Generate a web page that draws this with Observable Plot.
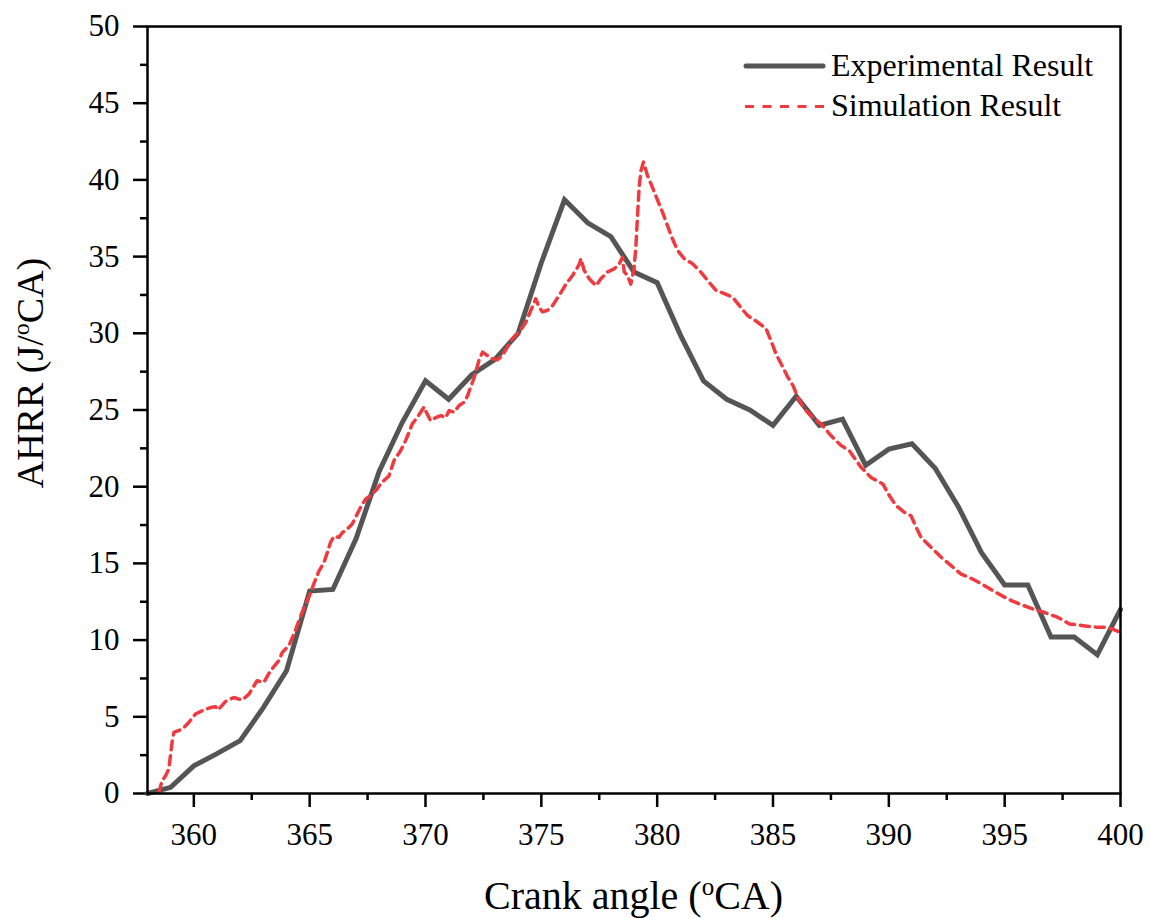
<!DOCTYPE html>
<html><head><meta charset="utf-8">
<script src="https://cdn.jsdelivr.net/npm/d3@7"></script>
<script src="https://cdn.jsdelivr.net/npm/@observablehq/plot@0.6"></script>
<style>body{margin:0;background:#fff} svg text{font-family:'Liberation Serif','Times New Roman',serif}</style>
</head><body><div id="chart"></div>
<script>
// ---- data ----
const expAngle = [358,359,360,361,362,363,364,365,366,367,368,369,370,371,372,373,374,375,376,377,378,379,380,381,382,383,384,385,386,387,388,389,390,391,392,393,394,395,396,397,398,399,400];
const expAHRR = [0,0.4,1.8,2.6,3.45,5.6,8.0,13.2,13.3,16.6,21.0,24.2,26.9,25.7,27.3,28.3,30.0,34.6,38.7,37.2,36.3,34.0,33.3,29.9,26.9,25.7,25.0,24.0,25.9,24.0,24.4,21.4,22.45,22.8,21.2,18.7,15.7,13.6,13.6,10.2,10.2,9.05,12.0];

const simAngle = [358.49,358.63,358.78,358.92,359.07,359.14,359.5,359.78,360.07,360.43,360.72,360.94,361.05,361.37,361.73,362.09,362.38,362.73,363.02,363.31,363.67,363.82,364.1,364.32,364.54,364.75,364.9,365.18,365.4,365.62,365.76,365.9,366.05,366.26,366.41,366.63,366.84,366.98,367.2,367.42,367.7,367.92,368.06,368.42,368.64,368.93,369.14,369.29,369.43,369.65,369.79,369.94,370.0,370.22,370.44,370.66,370.87,371.02,371.24,371.45,371.66,371.81,371.95,372.1,372.3,372.46,372.67,372.89,373.1,373.32,373.53,373.75,373.97,374.19,374.33,374.55,374.76,374.9,375.05,375.27,375.48,375.77,376.06,376.35,376.64,376.71,376.85,377.07,377.36,377.57,377.86,378.14,378.36,378.5,378.58,378.72,378.86,379.0,379.08,379.15,379.22,379.3,379.41,379.58,379.8,380.02,380.23,380.45,380.66,380.88,381.17,381.53,381.82,382.18,382.54,382.9,383.26,383.55,383.9,384.34,384.7,384.91,385.13,385.42,385.64,385.86,386.07,386.35,386.71,387.07,387.5,387.94,388.29,388.44,388.8,389.23,389.74,390.02,390.31,390.67,390.96,391.18,391.39,391.82,392.26,392.69,393.12,393.62,394.13,394.63,395.14,395.64,396.22,396.72,397.3,397.8,398.38,399.02,399.46,399.89];
const simAHRR = [0.07,0.83,1.15,1.6,3.44,3.98,4.2,4.63,5.18,5.44,5.6,5.66,5.45,6.0,6.26,6.09,6.48,7.35,7.24,8.0,8.66,9.2,9.63,10.4,11.27,12.1,12.57,13.66,14.5,15.07,15.7,16.37,16.77,16.7,17.0,17.25,17.57,18.0,18.66,19.2,19.5,19.86,20.2,20.7,21.7,22.36,23.0,23.55,24.1,24.53,24.85,25.2,24.96,24.3,24.5,24.64,24.5,24.96,24.85,25.3,25.5,25.9,26.5,27.1,28.2,28.77,28.55,28.34,28.27,28.55,29.1,29.64,29.97,30.4,30.72,31.5,32.25,31.7,31.4,31.5,31.8,32.47,33.2,33.77,34.5,34.86,34.1,33.55,33.1,33.55,34.0,34.2,34.5,34.96,34.0,33.77,33.2,34.2,35.6,37.6,39.5,40.6,41.16,40.3,39.5,38.66,37.9,37.0,36.16,35.4,34.86,34.53,34.1,33.44,32.8,32.58,32.35,31.8,31.16,30.72,30.3,29.53,28.66,27.8,27.14,26.6,25.83,25.07,24.53,24.1,23.33,22.68,22.36,22.03,21.27,20.6,20.18,19.42,18.77,18.33,18.1,17.35,16.7,16.05,15.4,14.85,14.3,13.98,13.55,13.1,12.68,12.35,12.03,11.8,11.48,11.05,10.94,10.83,10.83,10.57];

const xMajorTicks = [360,365,370,375,380,385,390,395,400];
const xMinorTicks = [362.5,367.5,372.5,377.5,382.5,387.5,392.5,397.5];
const yMajorTicks = [0,5,10,15,20,25,30,35,40,45,50];
const yMinorTicks = [2.5,7.5,12.5,17.5,22.5,27.5,32.5,37.5,42.5,47.5];
const xTitle = ["Crank angle (", "o", "CA)"];
const yTitle = ["AHRR (J/", "o", "CA)"];
const seriesNames = ["Experimental Result", "Simulation Result"];

// ---- build ----
const expData = expAngle.map((x, i) => ({x, y: expAHRR[i]}));
const simData = simAngle.map((x, i) => ({x, y: simAHRR[i]}));
const font = "'Liberation Serif','Times New Roman',serif";
const expColor = "#555555", simColor = "#ef3b3f";

const chart = Plot.plot({
  width: 1150, height: 918,
  marginLeft: 147, marginRight: 30, marginTop: 26, marginBottom: 125,
  style: {fontFamily: font, background: "#fff", color: "#000"},
  x: {domain: [358, 400]},
  y: {domain: [0, 50]},
  marks: [
    Plot.axisX({ticks: xMajorTicks, tickSize: 14, tickPadding: 15, fontSize: 31, fontFamily: font, strokeWidth: 2.5, label: null, tickFormat: d => String(d)}),
    Plot.axisX({ticks: xMinorTicks, tickSize: 7, strokeWidth: 2.5, label: null, tickFormat: () => ""}),
    Plot.axisY({ticks: yMajorTicks, tickSize: 14, tickPadding: 14, fontSize: 31, fontFamily: font, strokeWidth: 2.5, label: null, tickFormat: d => String(d)}),
    Plot.axisY({ticks: yMinorTicks, tickSize: 7, strokeWidth: 2.5, label: null, tickFormat: () => ""}),
    Plot.line(expData, {x: "x", y: "y", stroke: expColor, strokeWidth: 5, strokeLinejoin: "miter", strokeMiterlimit: 3}),
    Plot.line(simData, {x: "x", y: "y", stroke: simColor, strokeWidth: 3.5, strokeDasharray: "9,6", strokeLinecap: "round"}),
    Plot.frame({stroke: "#000", strokeWidth: 2.5})
  ]
});
document.getElementById("chart").appendChild(chart);

const svg = d3.select(chart);
// x title
const xt = svg.append("text").attr("x", 633.5).attr("y", 909)
  .attr("text-anchor", "middle").attr("font-size", 40).attr("fill", "#000");
xt.append("tspan").text(xTitle[0]);
xt.append("tspan").attr("font-size", 25).attr("dy", -14).text(xTitle[1]);
xt.append("tspan").attr("dy", 14).text(xTitle[2]);
// y title
const yt = svg.append("text").attr("transform", "translate(43,373) rotate(-90)")
  .attr("text-anchor", "middle").attr("font-size", 38).attr("fill", "#000");
yt.append("tspan").text(yTitle[0]);
yt.append("tspan").attr("font-size", 24).attr("dy", -14).text(yTitle[1]);
yt.append("tspan").attr("dy", 14).text(yTitle[2]);
// legend
const lg = svg.append("g").attr("font-size", 32).attr("text-anchor", "start");
lg.append("line").attr("x1", 746).attr("x2", 823).attr("y1", 66).attr("y2", 66)
  .attr("stroke", expColor).attr("stroke-width", 5).attr("stroke-linecap", "round");
lg.append("line").attr("x1", 745).attr("x2", 825).attr("y1", 106.5).attr("y2", 106.5)
  .attr("stroke", simColor).attr("stroke-width", 3.2).attr("stroke-dasharray", "9,8.5");
lg.append("text").attr("x", 831).attr("y", 76).attr("text-anchor", "start").text(seriesNames[0]);
lg.append("text").attr("x", 831).attr("y", 116).attr("text-anchor", "start").text(seriesNames[1]);

// force serif everywhere (inline style beats Plot defaults)
svg.selectAll("text").style("font-family", font).style("font-variant", "normal");
</script>
</body></html>
